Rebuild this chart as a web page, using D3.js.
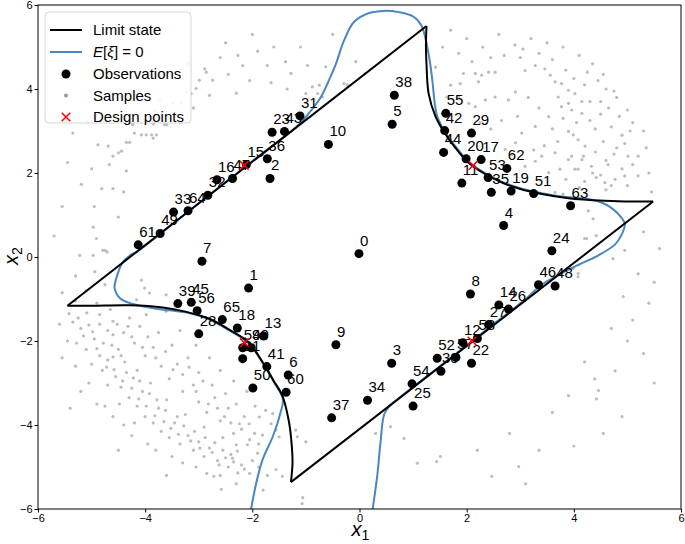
<!DOCTYPE html>
<html>
<head>
<meta charset="utf-8">
<script src="https://cdn.jsdelivr.net/npm/d3@7"></script>
<style>
body { margin: 0; background: #fff; }
svg text { font-family: "Liberation Sans", Arial, sans-serif; }
</style>
</head>
<body>
<div id="grafica-estado-limite"></div>
<script>
// ticks
const xTicks = [-6, -4, -2, 0, 2, 4, 6]
const yTicks = [-6, -4, -2, 0, 2, 4, 6]

// limit state g(x) = 0, drawn in 4 pieces (2 straight edges + 2 curved branches)
const limitEdgeTL = [[-5.45, -1.16], [1.25, 5.50]]
const limitCurveTR = [[1.25, 5.50], [1.24, 5.00], [1.25, 4.60], [1.29, 3.89], [1.42, 3.34], [1.57, 2.99], [1.79, 2.60], [2.04, 2.24], [2.35, 1.97], [2.66, 1.77], [2.97, 1.63], [3.40, 1.50], [3.90, 1.40], [4.58, 1.34], [5.10, 1.32], [5.48, 1.32]]
const limitEdgeBR = [[5.48, 1.32], [-1.28, -5.36]]
const limitCurveBL = [[-1.28, -5.36], [-1.25, -4.90], [-1.27, -4.40], [-1.32, -3.90], [-1.44, -3.30], [-1.60, -2.95], [-1.77, -2.58], [-2.08, -2.02], [-2.43, -1.73], [-2.80, -1.47], [-3.25, -1.30], [-3.67, -1.20], [-4.29, -1.15], [-5.00, -1.16], [-5.45, -1.16]]

// E[xi] = 0 contour
const meanZero = [[-2.03, -6.05], [-1.93, -5.40], [-1.81, -4.83], [-1.62, -4.28], [-1.48, -3.73], [-1.43, -3.38], [-1.60, -2.97], [-1.77, -2.60], [-2.08, -2.04], [-2.43, -1.75], [-2.80, -1.49], [-3.20, -1.33], [-3.55, -1.27], [-3.85, -1.22], [-4.23, -1.12], [-4.47, -0.98], [-4.57, -0.74], [-4.54, -0.51], [-4.41, -0.11], [-4.27, 0.05], [-4.15, 0.13], [-3.00, 1.28], [-2.00, 2.28], [-1.15, 3.13], [-0.94, 3.43], [-0.72, 3.81], [-0.57, 4.21], [-0.44, 4.60], [-0.29, 5.15], [-0.10, 5.60], [0.18, 5.81], [0.46, 5.86], [0.73, 5.83], [1.01, 5.72], [1.16, 5.50], [1.26, 5.03], [1.32, 4.60], [1.36, 4.20], [1.44, 3.40], [1.58, 3.01], [1.80, 2.62], [2.04, 2.26], [2.35, 1.99], [2.66, 1.79], [2.97, 1.65], [3.40, 1.52], [3.90, 1.42], [4.27, 1.38], [4.55, 1.28], [4.73, 1.14], [4.88, 0.95], [4.95, 0.79], [4.90, 0.55], [4.77, 0.30], [4.46, 0.04], [4.08, -0.19], [3.77, -0.39], [3.40, -0.66], [3.10, -1.00], [2.30, -1.80], [1.50, -2.60], [0.68, -3.42], [0.55, -3.56], [0.46, -3.75], [0.39, -4.44], [0.33, -5.22], [0.24, -6.05]]

// observations (index = label)
const obsX = [-0.01, -2.07, -1.67, 0.60, 2.69, 0.61, -1.33, -2.94, 2.07, -0.44, -0.58, 1.91, 1.93, -1.79, 2.60, -2.11, -2.66, 2.27, -2.28, 2.83, 1.99, -2.18, 2.09, -1.63, 3.59, 1.00, 2.78, 2.41, -3.00, 2.09, 1.52, -1.11, -2.83, -3.47, 0.15, 2.46, -1.72, -0.52, 0.65, -3.39, -2.02, -1.73, 1.59, -1.40, 1.57, -3.14, 3.34, -2.37, 3.65, -3.72, -1.99, 3.25, 1.45, 2.40, 0.98, 1.61, -3.03, 1.80, 2.20, -2.18, -1.37, -4.13, 2.75, 3.94, -3.20, -2.56]
const obsY = [0.08, -0.74, 1.87, -2.53, 0.75, 3.16, -2.81, -0.10, -0.88, -2.09, 2.68, 1.76, -2.04, -1.88, -1.14, 2.20, 1.84, 2.32, -1.69, 1.57, 2.34, -2.42, -2.53, 2.97, 0.15, -3.55, -1.24, -1.61, -1.83, 2.95, -2.72, 3.36, 1.47, 1.07, -3.41, 1.54, 2.34, -3.83, 3.85, -1.11, -2.16, -2.61, 3.01, 2.99, 2.49, -1.08, -0.66, 1.87, -0.69, 0.56, -3.12, 1.51, -2.41, 1.89, -3.02, 3.42, -1.28, -2.39, -1.94, -2.16, -3.22, 0.29, 2.11, 1.22, 1.10, -1.49]

// design points
const designX = [-2.15, 2.12, -2.15, 2.10]
const designY = [2.18, 2.18, -2.04, -2.00]

// samples (approximate)
const samplesUL = [[-4.88, 2.67], [-4.69, 2.64], [-5.19, 1.73], [-4.81, 1.63], [-4.60, 1.63], [-4.67, 2.20], [-4.35, 2.05], [-4.60, 2.40], [-4.50, 2.48], [-4.44, 2.52], [-4.35, 2.73], [-4.29, 2.73], [-4.20, 2.95], [-4.07, 2.91], [-3.98, 2.91], [-3.88, 2.91], [-3.85, 2.83], [-3.79, 2.91], [-3.60, 3.15], [-3.85, 3.17], [-4.23, 3.17], [-4.97, 0.71], [-4.91, 0.44], [-4.79, 0.16], [-4.71, 0.12], [-5.22, 0.04],
    [-2.27, 4.80], [-2.89, 4.48], [-2.86, 4.40], [-2.99, 4.21], [-2.74, 4.21], [-3.05, 4.01], [-3.14, 3.89], [-3.23, 3.93], [-3.33, 3.66], [-3.48, 3.66], [-3.73, 3.74], [-3.98, 3.85], [-3.82, 3.46], [-3.61, 3.38], [-3.45, 3.38], [-3.64, 3.15], [-3.85, 3.22], [-4.23, 3.15], [-5.09, 3.22],
    [-2.18, 4.56], [-1.72, 4.56], [-1.38, 4.65], [-1.28, 4.37], [-0.97, 4.56], [-0.63, 4.53], [-0.88, 4.05], [-0.75, 4.09], [-0.78, 3.89], [-0.29, 4.13], [-0.23, 4.10], [-0.07, 4.65], [0.11, 4.37], [-0.69, 3.81], [-1.00, 3.89],
    [-2.50, 5.10], [-2.00, 5.30], [-1.60, 5.00], [-3.20, 4.60], [-1.90, 4.90], [-2.60, 4.75], [-2.45, 4.35], [-2.05, 4.20], [-1.65, 4.15], [-1.35, 4.00], [-2.80, 3.85], [-3.10, 3.55], [-3.35, 3.20], [-2.30, 3.90], [-1.10, 5.00], [-0.50, 5.30],
    [-5.55, 1.20], [-5.45, 2.25], [-5.70, 0.50], [-5.35, 2.95], [-5.00, 2.10], [-4.95, 1.20], [-4.40, 1.55], [-4.50, 0.95], [-5.30, -0.45], [-5.55, -0.85]]
const samplesUR = [[1.42, 4.52], [1.70, 4.09], [1.63, 3.81], [1.88, 4.13], [1.94, 4.37], [2.16, 4.37], [2.28, 4.33], [2.41, 4.40], [2.53, 4.40], [2.22, 4.17], [1.85, 3.81], [2.04, 3.66], [2.16, 3.58], [2.35, 3.74], [2.53, 3.81], [2.78, 3.74], [2.91, 3.93], [3.09, 4.44], [3.28, 4.56], [3.46, 4.48], [3.56, 4.33], [3.65, 4.17], [3.77, 4.13], [3.71, 3.81], [3.90, 3.97], [4.02, 3.89], [3.90, 3.66], [3.77, 3.58], [3.96, 3.50], [4.15, 3.42], [3.90, 2.99], [3.99, 2.91], [4.08, 2.79], [4.21, 2.64], [4.18, 2.40], [3.90, 2.32], [3.74, 2.09], [4.02, 2.09], [3.53, 2.01], [3.65, 2.48], [3.40, 2.40], [3.28, 2.28], [3.09, 2.16], [3.53, 3.34], [3.28, 3.11], [3.03, 2.95], [2.91, 2.72], [2.84, 2.44], [2.72, 2.56],
    [4.45, 4.20], [4.60, 4.00], [4.80, 3.80], [5.00, 3.50], [5.10, 3.20], [4.90, 2.90], [4.70, 3.10], [4.50, 3.40], [4.30, 3.70], [4.40, 2.50], [4.60, 2.30], [4.80, 2.60], [5.20, 2.40], [4.90, 2.10], [4.50, 1.95], [4.20, 1.80], [4.35, 4.60], [4.10, 4.80], [3.80, 5.00], [3.50, 5.10], [3.20, 5.20], [2.90, 5.05], [2.60, 5.30], [2.30, 5.00], [2.00, 5.20], [1.70, 5.40], [1.55, 5.00], [2.70, 4.80], [3.00, 4.75], [4.20, 4.10], [5.30, 3.00], [5.40, 2.00], [5.00, 1.70], [4.60, 1.60],
    [3.96, 2.40], [4.15, 2.32], [4.33, 2.16], [4.08, 2.09], [4.42, 1.89], [4.58, 1.77], [4.77, 1.85], [4.95, 1.93], [5.20, 1.93], [5.01, 2.40], [4.64, 2.20], [3.65, 1.54], [3.80, 1.50],
    [4.50, 3.70], [4.65, 3.55], [4.85, 3.35], [4.75, 3.95], [4.55, 4.35], [4.25, 4.40], [4.00, 4.25], [3.85, 4.45], [3.60, 4.70], [3.35, 4.85], [3.05, 4.95], [4.40, 3.05], [4.55, 2.75], [4.75, 2.45], [4.95, 2.70], [5.05, 3.00], [4.30, 3.25], [4.15, 3.70], [4.05, 3.20], [3.80, 3.30], [3.70, 2.75], [3.45, 2.65], [3.25, 2.55], [3.60, 3.05], [4.35, 2.00], [4.10, 1.65], [3.85, 1.85], [4.70, 1.70], [5.10, 2.20], [5.35, 2.60], [5.45, 1.55], [2.45, 4.75], [2.10, 4.65], [1.85, 4.85], [3.15, 3.80], [3.35, 3.55], [2.95, 3.35], [2.65, 3.25], [2.45, 3.05], [2.25, 3.20]]
const samplesLR = [[4.20, 0.44], [4.42, 0.51], [4.92, -0.94], [4.08, -0.39], [4.39, -2.90], [4.46, -3.18], [4.77, -2.71], [4.42, -3.38], [5.10, -1.50], [5.30, -2.30], [4.90, -3.80], [4.55, -4.20], [4.00, -4.50], [3.35, -4.60], [2.97, -4.99], [2.47, -5.22], [1.44, -4.87], [1.51, -4.75], [0.30, -4.20], [0.58, -4.04], [0.83, -4.32], [1.08, -4.91], [5.50, -0.60], [5.40, -1.10], [4.70, -1.70], [5.00, -2.00], [3.60, -3.70], [3.90, -3.30], [4.20, -2.50], [5.50, -3.00], [2.80, -4.20], [2.20, -4.60], [3.10, -5.40], [4.95, 0.16], [4.73, -0.04], [3.99, -0.27], [4.08, -0.47], [4.24, 0.44], [4.36, 0.91], [4.27, 1.10], [5.30, 0.60], [5.60, 0.20], [5.20, -0.40],
    [-2.72, -5.22], [-2.58, -5.53], [-1.07, -5.87], [-1.06, -5.73]]
const samplesLL = [[-4.97, 0.04], [-4.75, 0.16], [-4.94, -0.35], [-4.75, -0.66], [-4.07, -0.55], [-4.01, -0.74], [-3.92, -0.86], [-4.16, -1.02], [-3.61, -0.90], [-5.09, -1.33], [-4.85, -1.37], [-4.29, -1.45], [-3.98, -1.37], [-3.61, -1.29], [-4.60, -1.53],
    [-2.24, -3.97], [-2.06, -3.97], [-1.96, -4.20], [-1.87, -3.81], [-1.75, -3.65], [-1.62, -3.73], [-1.65, -3.97], [-1.81, -4.24], [-1.56, -4.12], [-1.50, -4.28], [-1.19, -4.12], [-1.16, -4.28], [-1.00, -4.40], [-2.30, -4.47], [-2.09, -4.47], [-1.90, -4.67], [-2.27, -5.14], [-1.56, -5.06], [-1.44, -5.22], [-2.37, -4.79],
    [-5.35, -1.55], [-5.20, -1.70], [-5.05, -1.62], [-5.28, -2.05], [-5.10, -2.20], [-4.95, -1.95], [-4.85, -2.35], [-5.00, -2.55], [-4.80, -2.70], [-4.70, -2.45], [-4.62, -2.10], [-4.55, -2.85], [-4.70, -3.05], [-4.45, -3.10], [-4.35, -2.75], [-4.30, -3.35], [-4.48, -3.50], [-4.15, -3.55], [-4.05, -3.20], [-4.00, -3.80], [-4.20, -3.95], [-3.85, -3.95], [-3.75, -3.60], [-3.70, -4.15], [-3.55, -4.30], [-3.45, -3.95], [-3.35, -4.45], [-3.20, -4.25], [-3.10, -4.60], [-3.00, -4.40], [-2.90, -4.75], [-2.80, -4.55], [-2.65, -4.85], [-2.55, -4.60], [-2.45, -5.00], [-2.40, -4.70], [-2.20, -4.95], [-2.05, -5.15], [-2.60, -5.20], [-3.05, -5.00], [-3.50, -4.75], [-3.95, -4.45], [-4.40, -4.00], [-4.75, -3.55], [-5.05, -3.00], [-5.30, -2.60], [-5.45, -2.00],
    [-4.40, -1.80], [-4.20, -2.05], [-4.00, -2.35], [-3.85, -2.15], [-3.70, -2.60], [-3.55, -2.90], [-3.40, -2.55], [-3.30, -3.20], [-3.10, -3.05], [-3.00, -3.45], [-2.85, -3.70], [-2.70, -3.35], [-2.60, -3.90], [-2.45, -3.60], [-2.35, -4.20], [-2.55, -4.30], [-2.90, -4.05], [-3.25, -3.75], [-3.60, -3.40], [-3.90, -3.00], [-4.15, -2.70], [-4.45, -2.35], [-4.60, -1.85], [-4.10, -1.65], [-3.75, -1.80], [-3.50, -2.10], [-3.20, -2.40], [-3.00, -2.75], [-2.75, -3.05], [-2.50, -3.25], [-2.30, -3.50], [-2.15, -3.80], [-3.35, -1.75], [-3.05, -2.10], [-2.80, -2.40], [-2.60, -2.70], [-2.35, -2.95], [-2.10, -3.20], [-1.95, -3.55],
    [-5.42, -1.35], [-5.25, -1.45], [-5.15, -1.88], [-4.98, -1.78], [-4.90, -2.18], [-4.78, -2.05], [-4.72, -2.62], [-4.60, -2.38], [-4.58, -2.68], [-4.50, -2.20], [-4.42, -2.95], [-4.38, -2.50], [-4.25, -3.12], [-4.22, -2.88], [-4.12, -3.38], [-4.10, -2.95], [-3.98, -3.55], [-3.92, -3.25], [-3.82, -3.78], [-3.78, -3.40], [-3.65, -3.92], [-3.62, -3.65], [-3.52, -4.08], [-3.40, -3.80], [-3.38, -4.22], [-3.28, -4.02], [-3.15, -4.38], [-3.08, -4.15], [-2.98, -4.55], [-2.88, -4.30], [-2.75, -4.65], [-2.70, -4.42], [-2.62, -4.95], [-2.50, -4.78], [-2.35, -4.88], [-2.28, -4.62], [-2.15, -5.05], [-2.00, -4.85], [-1.88, -5.00], [-1.72, -5.20],
    [-4.85, -1.60], [-4.70, -1.75], [-4.52, -1.60], [-4.32, -1.65], [-4.25, -1.90], [-4.05, -2.15], [-3.95, -1.90], [-3.80, -2.40], [-3.62, -2.25], [-3.48, -2.68], [-3.30, -2.80], [-3.18, -2.62], [-3.05, -3.20], [-2.92, -2.95], [-2.82, -3.50], [-2.65, -3.60], [-2.52, -3.80], [-2.40, -3.95], [-2.20, -4.10], [-2.05, -4.35], [-1.88, -4.45],
    [-5.30, -1.05], [-5.10, -0.80], [-4.90, -1.10], [-4.65, -1.25], [-5.60, -1.60], [-5.55, -2.40], [-5.20, -3.20], [-4.90, -3.50], [-4.60, -3.80], [-4.25, -4.25], [-3.80, -4.60], [-3.30, -4.90], [-2.85, -5.15], [-2.30, -5.40], [-1.80, -5.55], [-3.60, -5.20], [-4.50, -4.60], [-5.40, -3.60]]

function grafica_estado_limite() {
    const samples = samplesUL.concat(samplesUR, samplesLR, samplesLL)
    const observaciones = obsX.map((d, i) => ({ id: i, x: d, y: obsY[i] }))
    const disenio = designX.map((d, i) => ({ x: d, y: designY[i] }))

    const margin = { top: 5, right: 4, bottom: 35, left: 38 }
    const width = 685 - margin.left - margin.right
    const height = 544 - margin.top - margin.bottom
    const blackColor = '#000'
    const blueColor = '#4a86bf'
    const greyColor = '#bdbdbd'

    const svg = d3.select('#grafica-estado-limite')
        .append('svg')
        .attr('width', width + margin.left + margin.right)
        .attr('height', height + margin.top + margin.bottom)
        .append('g')
        .attr('transform', `translate(${margin.left}, ${margin.top})`)

    const x = d3.scaleLinear().domain([-6, 6]).range([0, width])
    const y = d3.scaleLinear().domain([-6, 6]).range([height, 0])

    svg.append('clipPath').attr('id', 'recorte')
        .append('rect').attr('width', width).attr('height', height)

    const plot = svg.append('g').attr('clip-path', 'url(#recorte)')

    // samples
    plot.selectAll('.sample')
        .data(samples)
        .enter().append('circle')
        .attr('class', 'sample')
        .attr('cx', d => x(d[0]))
        .attr('cy', d => y(d[1]))
        .attr('r', 1.6)
        .style('fill', greyColor)

    const recta = d3.line().x(d => x(d[0])).y(d => y(d[1]))
    const curva = d3.line().x(d => x(d[0])).y(d => y(d[1])).curve(d3.curveCatmullRom.alpha(0.5))

    // E[xi] = 0
    plot.append('path')
        .attr('d', curva(meanZero))
        .style('fill', 'none')
        .style('stroke', blueColor)
        .style('stroke-width', 2)

    // limit state
    const trozos = [[limitEdgeTL, recta], [limitCurveTR, curva], [limitEdgeBR, recta], [limitCurveBL, curva]]
    trozos.forEach(t => {
        plot.append('path')
            .attr('d', t[1](t[0]))
            .style('fill', 'none')
            .style('stroke', blackColor)
            .style('stroke-width', 2)
    })

    // observations
    plot.selectAll('.obs')
        .data(observaciones)
        .enter().append('circle')
        .attr('class', 'obs')
        .attr('cx', d => x(d.x))
        .attr('cy', d => y(d.y))
        .attr('r', 4.5)
        .style('fill', blackColor)

    plot.selectAll('.obs-label')
        .data(observaciones)
        .enter().append('text')
        .attr('class', 'obs-label')
        .attr('x', d => x(d.x) + 1)
        .attr('y', d => y(d.y) - 8)
        .text(d => d.id)
        .style('font-size', '15px')
        .style('fill', blackColor)

    // design points
    const cruz = d3.symbol().type(d3.symbolX).size(50)
    plot.selectAll('.design')
        .data(disenio)
        .enter().append('path')
        .attr('class', 'design')
        .attr('transform', d => `translate(${x(d.x)}, ${y(d.y)})`)
        .attr('d', cruz)
        .style('fill', 'none')
        .style('stroke', 'red')
        .style('stroke-width', 1.5)

    // axes
    const xAxis = svg.append('g')
        .attr('class', 'x axis')
        .attr('transform', `translate(0, ${height})`)
        .call(d3.axisBottom(x).tickValues(xTicks).tickSize(3.5).tickPadding(2))
    const yAxis = svg.append('g')
        .attr('class', 'y axis')
        .call(d3.axisLeft(y).tickValues(yTicks).tickSize(3.5).tickPadding(2))
    svg.selectAll('.axis .domain').remove()
    svg.selectAll('.axis text').style('font-size', '11px').style('fill', '#000')
        .style('font-family', '"Liberation Sans", Arial, sans-serif')
    svg.selectAll('.axis line').style('stroke', '#000')

    svg.append('rect')
        .attr('width', width).attr('height', height)
        .style('fill', 'none').style('stroke', '#000').style('stroke-width', 1)

    // axis labels
    const xl = svg.append('text')
        .attr('x', width / 2 - 8)
        .attr('y', height + 27)
        .style('font-size', '20px')
    xl.append('tspan').text('x').style('font-style', 'italic')
    xl.append('tspan').text('1').attr('dy', 4).style('font-size', '14px')

    const yl = svg.append('text')
        .attr('transform', `translate(${-20}, ${height / 2 + 8}) rotate(-90)`)
        .style('font-size', '20px')
    yl.append('tspan').text('x').style('font-style', 'italic')
    yl.append('tspan').text('2').attr('dy', 4).style('font-size', '14px')

    // legend
    const leyenda = svg.append('g').attr('transform', 'translate(7, 7)')
    leyenda.append('rect')
        .attr('width', 146).attr('height', 111).attr('rx', 4)
        .style('fill', '#fff').style('fill-opacity', 0.85)
        .style('stroke', '#d6d6d6')
    const filas = [18, 40, 62, 83.5, 105]
    leyenda.append('line').attr('x1', 5).attr('x2', 37).attr('y1', filas[0]).attr('y2', filas[0])
        .style('stroke', blackColor).style('stroke-width', 2)
    leyenda.append('line').attr('x1', 5).attr('x2', 37).attr('y1', filas[1]).attr('y2', filas[1])
        .style('stroke', blueColor).style('stroke-width', 2)
    leyenda.append('circle').attr('cx', 21).attr('cy', filas[2]).attr('r', 4.5).style('fill', blackColor)
    leyenda.append('circle').attr('cx', 21).attr('cy', filas[3]).attr('r', 2).style('fill', '#999')
    leyenda.append('path').attr('transform', `translate(21, ${filas[4]})`).attr('d', cruz)
        .style('fill', 'none').style('stroke', 'red').style('stroke-width', 1.5)

    const textos = ['Limit state', null, 'Observations', 'Samples', 'Design points']
    textos.forEach((t, i) => {
        if (t === null) return
        leyenda.append('text')
            .attr('x', 48).attr('y', filas[i] + 5)
            .text(t)
            .style('font-size', '15px')
    })
    const e = leyenda.append('text').attr('x', 48).attr('y', filas[1] + 5).style('font-size', '15px')
    e.append('tspan').text('E').style('font-style', 'italic')
    e.append('tspan').text('[')
    e.append('tspan').text('ξ').style('font-style', 'italic')
    e.append('tspan').text('] = 0')
}

grafica_estado_limite()
</script>
</body>
</html>
